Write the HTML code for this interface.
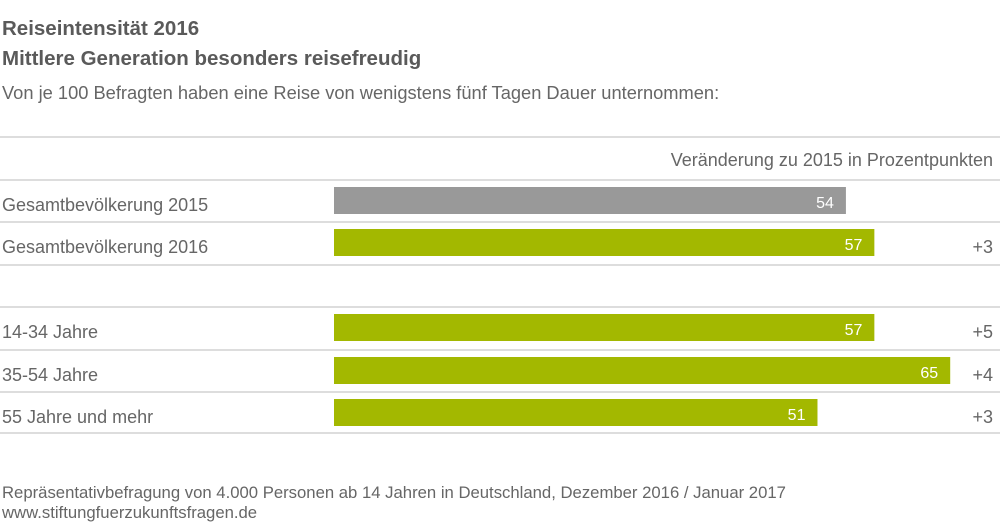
<!DOCTYPE html>
<html><head><meta charset="utf-8"><style>
body{margin:0;background:#fff;}
svg{display:block;font-family:"Liberation Sans",Arial,sans-serif;}
</style></head><body>
<svg id="chart" width="1000" height="526" viewBox="0 0 1000 526">
<text x="2" y="35" font-size="20.5" font-weight="bold" fill="#5a5a5a">Reiseintensität 2016</text>
<text x="2" y="65" font-size="20.5" font-weight="bold" fill="#5a5a5a">Mittlere Generation besonders reisefreudig</text>
<text x="2" y="99" font-size="18.3" fill="#666">Von je 100 Befragten haben eine Reise von wenigstens fünf Tagen Dauer unternommen:</text>
<line x1="0" x2="1000" y1="137" y2="137" stroke="#ddd" stroke-width="2"/>
<text x="993" y="166" font-size="18" fill="#666" text-anchor="end">Veränderung zu 2015 in Prozentpunkten</text>
<g id="rows"></g>
<text x="2" y="498" font-size="16.7" fill="#666">Repräsentativbefragung von 4.000 Personen ab 14 Jahren in Deutschland, Dezember 2016 / Januar 2017</text>
<text x="2" y="518" font-size="16.7" fill="#666">www.stiftungfuerzukunftsfragen.de</text>
</svg>
<script>
const categories = ["Gesamtbevölkerung 2015","Gesamtbevölkerung 2016","14-34 Jahre","35-54 Jahre","55 Jahre und mehr"];
const values = [54,57,57,65,51];
const changes = ["","+3","+5","+4","+3"];
const barColors = ["#999999","#a3b800","#a3b800","#a3b800","#a3b800"];
const rowTops = [180,222,307,350,392];
const x0 = 334, unit = 9.48;
const xScale = v => x0 + v*unit;
const ns = "http://www.w3.org/2000/svg";
const g = document.getElementById('rows');
function mk(tag, attrs){const e=document.createElementNS(ns,tag);for(const k in attrs)e.setAttribute(k,attrs[k]);g.appendChild(e);return e;}
categories.forEach((c,i)=>{
  const t = rowTops[i];
  const ln = mk('line',{x1:0,x2:1000,y1:t,y2:t,stroke:'#ddd','stroke-width':2});
  
  
  const lb = mk('text',{x:2,y:t+31,'font-size':18,fill:'#666'});
  lb.textContent = c;
  
  
  const r = mk('rect',{x:x0,y:t+7,width:xScale(values[i])-x0,height:27,fill:barColors[i]});
  
  
  const v = mk('text',{x:xScale(values[i])-12,y:t+28,'font-size':16,fill:'#fff','text-anchor':'end'});
  v.textContent = values[i];
  
  
  if(changes[i]){
    const ch = mk('text',{x:993,y:t+31,'font-size':18,fill:'#666','text-anchor':'end'});
    ch.textContent = changes[i];
    
    
  }
});
[265,433].forEach(y=>{
  const ln = mk('line',{x1:0,x2:1000,y1:y,y2:y,stroke:'#ddd','stroke-width':2});
  
  
});
</script>
</body></html>
